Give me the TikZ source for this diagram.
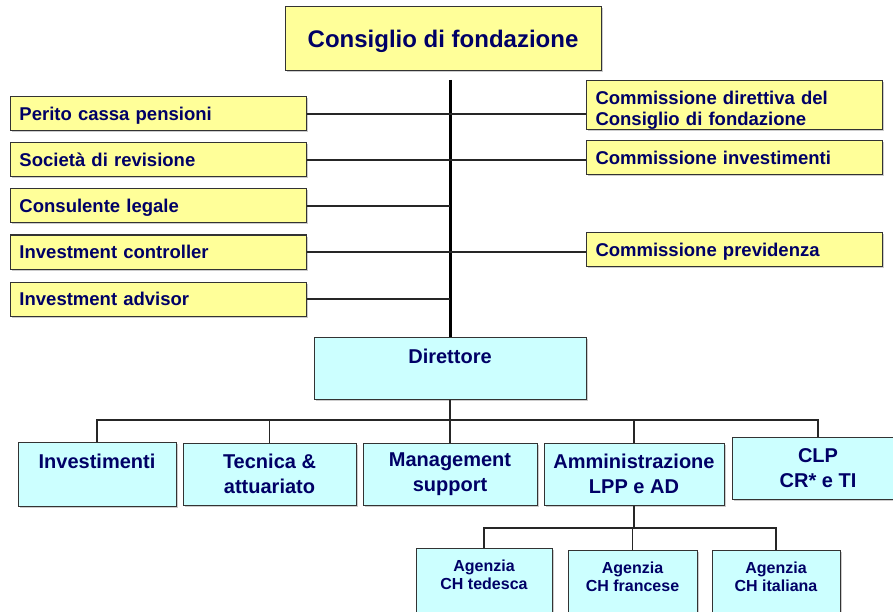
\documentclass[tikz,border=0pt]{standalone}
\usepackage{fontspec}
\setmainfont{Liberation Sans}
\usetikzlibrary{positioning}
\usetikzlibrary{shadows}
\definecolor{navy}{RGB}{0,0,102}
\definecolor{paleyellow}{RGB}{255,255,153}
\definecolor{palecyan}{RGB}{204,255,255}

\begin{document}
\begin{tikzpicture}[x=1pt,y=-1pt]
	\tikzset{
		boardnode/.style={rectangle, draw=black!80, line width=1pt, fill=paleyellow, text=navy, font=\fontsize{24}{28}\selectfont\bfseries, drop shadow={shadow xshift=1.5pt, shadow yshift=-1.5pt, fill=black!40}, minimum width=316pt, minimum height=64pt, text depth=1pt},
		sidenode/.style={rectangle, draw=black!80, line width=1pt, fill=paleyellow, text=navy, font=\fontsize{18.5}{21}\selectfont\bfseries, drop shadow={shadow xshift=1.5pt, shadow yshift=-1.5pt, fill=black!40}, text width=278pt, inner xsep=9pt, align=left, minimum height=34pt, anchor=west, text depth=0pt},
		unitnode/.style={rectangle, draw=black!80, line width=1pt, fill=palecyan, text=navy, font=\fontsize{20}{25}\selectfont\bfseries, drop shadow={shadow xshift=1.5pt, shadow yshift=-1.5pt, fill=black!40}, align=center, minimum height=62pt},
		agencynode/.style={rectangle, draw=black!80, line width=1pt, fill=palecyan, text=navy, font=\fontsize{16}{18}\selectfont\bfseries, drop shadow={shadow xshift=1.5pt, shadow yshift=-1.5pt, fill=black!40}, inner xsep=0pt, inner ysep=11pt, anchor=north},
		link/.style={draw=black!85, line width=1.2pt},
	}
	\useasboundingbox (0,0) rectangle (893,612);

	\node[boardnode] (board) at (443,39) {Consiglio di fondazione};

	\node[sidenode] (perito) at (10,114) {Perito cassa pensioni};
	\node[sidenode, below = 11pt of perito.south west, anchor=north west] (audit) {Società di revisione};
	\node[sidenode, below = 11pt of audit.south west, anchor=north west] (legal) {Consulente legale};
	\node[sidenode, below = 11pt of legal.south west, anchor=north west] (ctrl) {Investment controller};
	\node[sidenode, below = 12pt of ctrl.south west, anchor=north west] (advisor) {Investment advisor};

	\node[sidenode, inner ysep=0pt, text depth=25pt] (cdir) at (586,105) {\parbox[t][50pt][t]{278pt}{\rule{0pt}{24.5pt}Commissione direttiva del\\Consiglio di fondazione}};
	\node[sidenode, below = 10pt of cdir.south west, anchor=north west] (cinv) {Commissione investimenti};
	\node[sidenode] (cprev) at (586,249.5) {Commissione previdenza};

	\node[unitnode, minimum width=272pt] (dir) at (450,368) {Direttore\\[-10pt]\strut};

	\coordinate (spine) at (450,80);
	\draw[line width=3pt] (spine) -- (dir.north);

	\draw[link] (perito.east) -- (perito.east -| cdir.west);
	\draw[link] (audit.east) -- (audit.east -| cinv.west);
	\draw[link] (legal.east) -- (legal.east -| spine);
	\draw[link] (ctrl.east) -- (ctrl.east -| cprev.west);
	\draw[link] (advisor.east) -- (advisor.east -| spine);

	\node[unitnode, minimum width=158pt, minimum height=64pt] (inv) at (97,474) {Investimenti\\[-6pt]\strut};
	\node[unitnode, minimum width=173pt] (tech) at (269.5,474) {Tecnica \&\\attuariato};
	\node[unitnode, minimum width=174pt] (mgmt) at (450,474) {Management\\support};
	\node[unitnode, minimum width=180pt] (admin) at (634,474) {Amministrazione\\LPP e AD};
	\node[unitnode, minimum width=172pt] (clp) at (818,468) {CLP\\CR* e TI};

	\coordinate (bus) at (450,420);
	\draw[link] (dir.south) -- (bus);
	\draw[link] (inv.north) |- (bus) -| (clp.north);
	\draw[link] (tech.north) -- (tech.north |- bus);
	\draw[link] (mgmt.north) -- (bus);
	\draw[link] (admin.north) -- (admin.north |- bus);

	\node[agencynode] (ched) at (484,548) {\parbox[t][70pt][t]{136pt}{\centering Agenzia\\CH tedesca}};
	\node[agencynode] (chfr) at (632.5,550) {\parbox[t][70pt][t]{129pt}{\centering Agenzia\\CH francese}};
	\node[agencynode] (chit) at (776,550) {\parbox[t][70pt][t]{128pt}{\centering Agenzia\\CH italiana}};

	\coordinate (subbus) at (634,528);
	\draw[link] (admin.south) -- (subbus);
	\draw[link] (ched.north) |- (subbus) -| (chit.north);
	\draw[link] (chfr.north) -- (chfr.north |- subbus);
\end{tikzpicture}
\end{document}
